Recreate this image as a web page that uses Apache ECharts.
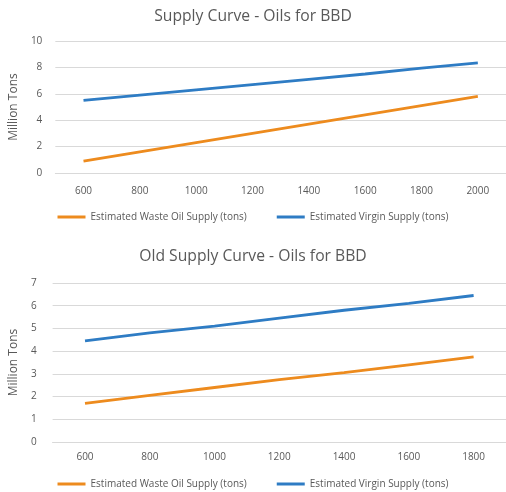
<!DOCTYPE html>
<html><head><meta charset="utf-8">
<script src="https://cdn.jsdelivr.net/npm/echarts@6/dist/echarts.min.js"></script>
<style>html,body{margin:0;padding:0;background:#fff}#c{width:506px;height:492px}</style>
</head><body><div id="c"></div>
<script>
const titles = ['Supply Curve - Oils for BBD', 'Old Supply Curve - Oils for BBD'];
const seriesNames = ['Estimated Waste Oil Supply (tons)', 'Estimated Virgin Supply (tons)'];
const yName = 'Million Tons';
const cats1 = ['600','800','1000','1200','1400','1600','1800','2000'];
const waste1 = [0.9, 1.6, 2.3, 3.0, 3.7, 4.4, 5.1, 5.8];
const virgin1 = [5.5, 5.9, 6.3, 6.7, 7.1, 7.5, 7.95, 8.35];
const cats2 = ['600','800','1000','1200','1400','1600','1800'];
const waste2 = [1.7, 2.05, 2.4, 2.75, 3.05, 3.4, 3.75];
const virgin2 = [4.45, 4.8, 5.1, 5.45, 5.8, 6.1, 6.45];
const yMax1 = 10, yInt1 = 2, yMax2 = 7, yInt2 = 1;

const ORANGE = '#ED8B1E', BLUE = '#2E7CC4', TXT = '#595959', GRID = '#d9d9d9';
const FONT = 'Open Sans';

function xAx(i, cats, margin){
  return {type:'category', gridIndex:i, data:cats, boundaryGap:true,
    axisTick:{show:false}, axisLine:{lineStyle:{color:GRID}},
    axisLabel:{color:TXT, fontFamily:FONT, fontSize:10, margin:margin}};
}
function yAx(i, max, interval, margin, gap){
  return {type:'value', gridIndex:i, min:0, max:max, interval:interval,
    name:yName, nameLocation:'middle', nameRotate:90, nameGap:gap,
    nameTextStyle:{color:TXT, fontFamily:FONT, fontSize:12},
    axisLine:{show:false}, axisTick:{show:false},
    splitLine:{lineStyle:{color:GRID}},
    axisLabel:{color:TXT, fontFamily:FONT, fontSize:10, margin:margin}};
}
function line(name, data, color, i){
  return {type:'line', name:name, data:data, xAxisIndex:i, yAxisIndex:i,
    showSymbol:false, symbol:'none', lineStyle:{color:color, width:2.8}, itemStyle:{color:color}};
}
function legend(top){
  return {top:top, left:'center', itemWidth:28, itemHeight:3, itemGap:30, icon:'rect',
    textStyle:{color:TXT, fontFamily:FONT, fontSize:10},
    data:[{name:seriesNames[0]},{name:seriesNames[1]}]};
}
const chart = echarts.init(document.getElementById('c'), null, {renderer:'canvas'});
chart.setOption({
  animation:false,
  title:[
    {text:titles[0], left:'center', top:4, textStyle:{color:TXT, fontFamily:FONT, fontSize:15.7, fontWeight:'normal'}},
    {text:titles[1], left:'center', top:244, textStyle:{color:TXT, fontFamily:FONT, fontSize:15.7, fontWeight:'normal'}}
  ],
  legend:[legend(207), legend(474)],
  grid:[
    {left:48, top:41, width:458, height:132},
    {left:46, top:283, width:460, height:159}
  ],
  xAxis:[xAx(0, cats1, 13), xAx(1, cats2, 10)],
  yAxis:[yAx(0, yMax1, yInt1, 13, 32), yAx(1, yMax2, yInt2, 16, 31)],
  series:[
    line(seriesNames[0], waste1, ORANGE, 0),
    line(seriesNames[1], virgin1, BLUE, 0),
    line(seriesNames[0], waste2, ORANGE, 1),
    line(seriesNames[1], virgin2, BLUE, 1)
  ]
});
</script></body></html>
